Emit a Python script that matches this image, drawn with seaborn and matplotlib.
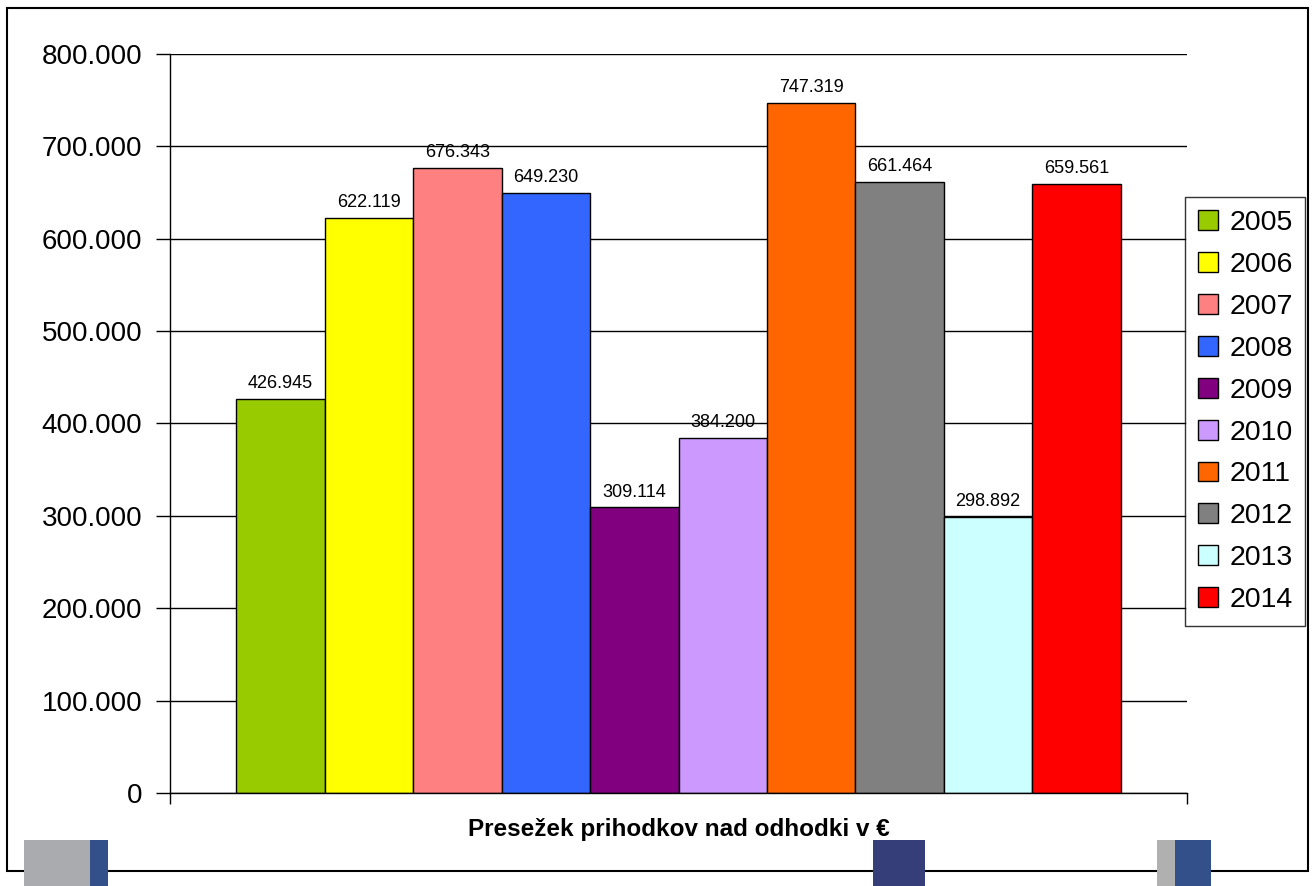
import matplotlib
matplotlib.use("Agg")
import matplotlib.pyplot as plt
import matplotlib.patches as mpatches
import numpy as np
import pandas as pd
import seaborn as sns

# data
years = ["2005", "2006", "2007", "2008", "2009", "2010", "2011", "2012", "2013", "2014"]
values = [426945, 622119, 676343, 649230, 309114, 384200, 747319, 661464, 298892, 659561]
colors = ["#99cc00", "#ffff00", "#ff8080", "#3366ff", "#800080",
          "#cc99ff", "#ff6600", "#808080", "#ccffff", "#ff0000"]
yticks = [0, 100000, 200000, 300000, 400000, 500000, 600000, 700000, 800000]
xlabel = "Presežek prihodkov nad odhodki v €"

sns.set_theme(style="white")
plt.rcParams["font.family"] = ["Liberation Sans", "DejaVu Sans"]
plt.rcParams.update({"text.color": "black", "axes.labelcolor": "black",
                     "xtick.color": "black", "ytick.color": "black"})

W, H = 1312, 886
fig = plt.figure(figsize=(W / 100, H / 100), dpi=100)
ax = fig.add_axes([170 / W, 1 - 793 / H, (1187 - 170) / W, (793 - 54) / H])

df = pd.DataFrame({"grp": [""] * len(years), "year": years, "value": values})
sns.barplot(data=df, x="grp", y="value", hue="year", palette=colors,
            width=0.87, dodge=True, saturation=1, gap=0,
            edgecolor="black", linewidth=1, ax=ax)

for cont, v in zip(ax.containers, values):
    ax.bar_label(cont, labels=[f"{v:,}".replace(",", ".")], padding=5,
                 fontsize=13, color="black")

ax.set_xlim(-0.5, 0.5)
ax.set_ylim(0, 800000)
ax.set_yticks(yticks)
ax.set_yticklabels([f"{t:,}".replace(",", ".") for t in yticks], fontsize=20)
ax.yaxis.grid(True, color="black", linewidth=1)
ax.set_axisbelow(True)
ax.tick_params(axis="y", direction="out", length=10, width=1, color="black",
               labelcolor="black", pad=10, left=True)
ax.set_xticks([-0.5, 0.5])
ax.set_xticklabels(["", ""])
ax.tick_params(axis="x", direction="out", length=8, width=1, color="black", bottom=True)
for side in ["top", "right"]:
    ax.spines[side].set_visible(False)
for side in ["left", "bottom"]:
    ax.spines[side].set_color("black")
    ax.spines[side].set_linewidth(1)

ax.set_ylabel("")
ax.set_xlabel(xlabel, fontsize=17.5, fontweight="bold", va="center", color="black")
ax.xaxis.set_label_coords(0.5, -0.05)

handles, labels = ax.get_legend_handles_labels()
if ax.get_legend() is not None:
    ax.get_legend().remove()
leg = fig.legend(handles, labels, loc="upper left", bbox_to_anchor=(1185 / W, 1 - 197 / H),
                 fontsize=20.5, frameon=True, fancybox=False, edgecolor="black",
                 handlelength=0.7, handleheight=0.7, handletextpad=0.4,
                 labelspacing=0.56, borderpad=0.45, borderaxespad=0)
leg.get_frame().set_linewidth(1)
for h in leg.legend_handles:
    h.set_edgecolor("black")
    h.set_linewidth(1)
for t in leg.get_texts():
    t.set_color("black")

# outer frame and slide decoration
fig.patches.append(mpatches.Rectangle((7 / W, 1 - 871 / H), (1308 - 7) / W, (871 - 8) / H,
                                      transform=fig.transFigure, fill=False,
                                      edgecolor="black", linewidth=1.5))
deco = [(24, 90, "#a9abae"), (90, 108, "#33508a"), (873, 925, "#353e78"),
        (1157, 1175, "#b0b0b0"), (1175, 1211, "#34508a")]
for x0, x1, c in deco:
    fig.patches.append(mpatches.Rectangle((x0 / W, 0), (x1 - x0) / W, (886 - 840) / H,
                                          transform=fig.transFigure, facecolor=c,
                                          edgecolor="none", zorder=5))

fig.savefig("out.png", dpi=100)
